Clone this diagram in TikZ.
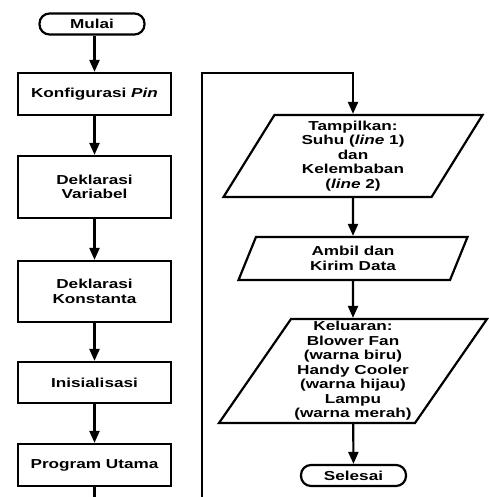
\documentclass[tikz,border=0pt]{standalone}
\usepackage{fontspec}
\setmainfont{Liberation Sans}[FakeStretch=1.32]
\usetikzlibrary{shapes.geometric,arrows.meta}

\begin{document}
\begin{tikzpicture}[x=1pt,y=-1pt,>={Triangle[length=12pt,width=10pt]},line width=2.2pt,
    font=\fontsize{13}{14.5}\selectfont\bfseries,
    box node/.style={rectangle,draw,minimum width=153pt,align=center,inner sep=0pt},
    end node/.style={rectangle,draw,rounded corners=10pt,minimum width=105pt,minimum height=21pt,inner sep=0pt},
    io node/.style={trapezium,draw,trapezium left angle=54,trapezium right angle=126,
        trapezium stretches body,align=center,inner sep=0pt}]

	\useasboundingbox (0,0) rectangle (488,497);

	% kolom kiri
	\draw (92,24)     node[end node] (mulai) {Mulai};
	\draw (94.5,94)   node[box node,minimum height=42pt] (konfig) {Konfigurasi \textit{Pin}};
	\draw (94.5,187)  node[box node,minimum height=62pt] (variabel) {Deklarasi\\Variabel};
	\draw (94.5,291.5) node[box node,minimum height=61pt] (konstanta) {Deklarasi\\Konstanta};
	\draw (94.5,382.5) node[box node,minimum height=41pt] (inisial) {Inisialisasi};
	\draw (94.5,465)  node[box node,minimum height=42pt] (utama) {Program Utama};

	% kolom kanan
	\draw (353,156)   node[io node,minimum height=82pt,minimum width=259pt] (tampil)
		{Tampilkan:\\Suhu (\textit{line} 1)\\dan\\Kelembaban\\(\textit{line} 2)};
	\draw (353,258.5) node[io node,minimum height=43pt,minimum width=229pt] (kirim) {Ambil dan\\Kirim Data};
	\draw (353,371)   node[io node,minimum height=104pt,minimum width=268pt] (keluar)
		{Keluaran:\\Blower Fan\\(warna biru)\\Handy Cooler\\(warna hijau)\\Lampu\\(warna merah)};
	\draw (353.5,475.5) node[end node] (selesai) {Selesai};

	\coordinate (bawah) at (202,520);
	\coordinate (atas) at (202,73);

	\path[->]
	(mulai.south -| konfig.north) edge (konfig.north)
	(konfig) edge (variabel)
	(variabel) edge (konstanta)
	(konstanta) edge (inisial)
	(inisial) edge (utama)
	(tampil) edge (kirim)
	(kirim) edge (keluar)
	(keluar) edge (selesai);

	\draw[->] (utama.south) |- (bawah) -- (atas) -| (tampil.north);

\end{tikzpicture}
\end{document}
